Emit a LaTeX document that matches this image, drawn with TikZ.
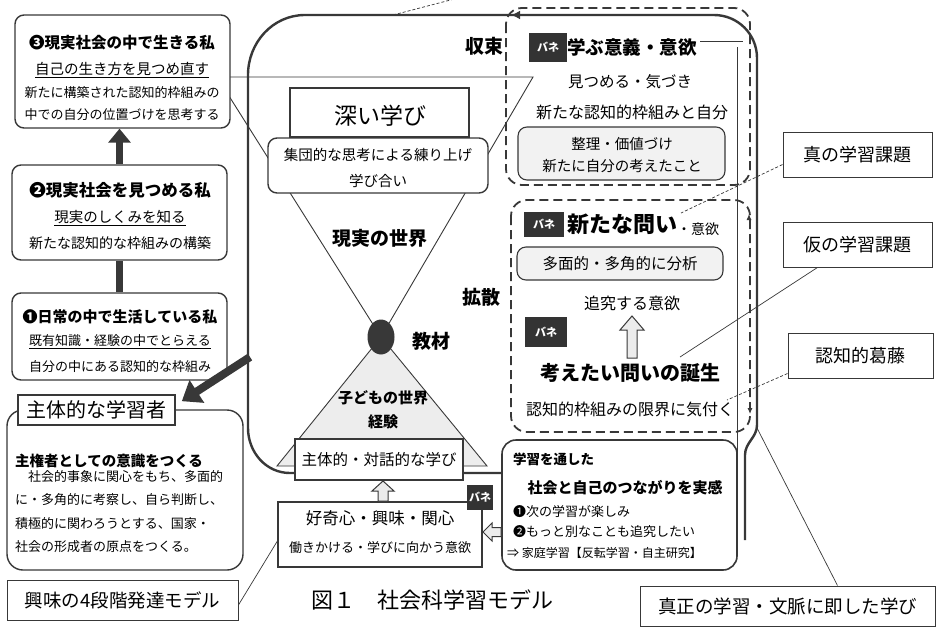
\documentclass[tikz,border=0pt]{standalone}
\usepackage{fontspec}
\usetikzlibrary{arrows.meta,shapes.geometric,calc}
\newfontfamily\jp{Noto Sans CJK JP}
\newcommand\fsz[1]{\fontsize{#1}{#1}\selectfont}
\definecolor{ink}{gray}{0.22}
\tikzset{
  loopline/.style={draw=ink,line width=2.4pt},
  rbox/.style={draw=ink,line width=1.4pt,rounded corners=9pt,fill=white,inner sep=0pt},
  sqbox/.style={draw=ink,line width=2pt,fill=white,inner sep=0pt},
  lbl/.style={draw=ink,line width=0.9pt,fill=white,inner sep=0pt,font=\jp\fsz{18}},
  txt/.style={inner sep=0pt,text=black},
  bane/.style={fill=black!80,text=white,inner sep=0pt,font=\jp\bfseries\fsz{11}},
  dbox/.style={draw=ink,line width=1.8pt,dash pattern=on 9pt off 5pt,rounded corners=16pt},
  thinl/.style={draw=ink,line width=0.7pt},
  hollowarrow/.style={draw=ink,line width=1pt,fill=gray!15,line join=miter},
}
\begin{document}
\begin{tikzpicture}[x=1pt,y=-1pt]
\useasboundingbox (0,0) rectangle (939,632);
\fill[white] (0,0) rectangle (939,632);

% hourglass
\coordinate (tl) at (217,77);
\coordinate (tr) at (533,77);
\coordinate (ctr) at (381,337);
\coordinate (bl) at (277,466);
\coordinate (br) at (487,466);
\filldraw[fill=gray!14,draw=ink,line width=0.9pt] (ctr) -- (bl) -- (br) -- cycle;
\draw[thinl,line width=0.9pt] (tl) -- (tr) -- (ctr) -- cycle;
\node[fill=ink,ellipse,minimum width=27pt,minimum height=35pt,inner sep=0pt] (ball) at (ctr) {};

% outer loop
\draw[loopline] (745,540) -- (745,455) to[out=90,in=270] (757,425) -- (757,58)
  to[out=90,in=0] (714,15) -- (305,15) to[out=180,in=90] (248,75) -- (248,428)
  to[out=270,in=180] (290,473) -- (502,473);
\draw[loopline,-{Latex[length=9pt,width=9pt]}] (522,15) -- (511,15);
% band
\draw[draw=ink,line width=0.9pt,double=white,double distance=5pt] (700,44) -- (740,44) -- (740,537);

% dashed boxes
\draw[dbox] (506,8) rectangle (750,185);
\draw[dbox] (511,200) rectangle (750,432);
\draw[ink,line width=1pt,-{Latex[length=6pt,width=5pt]}] (749,224) -- (749,214);
\draw[ink,line width=1pt,-{Latex[length=6pt,width=5pt]}] (750,404) -- (750,414);

% top connector leaving the picture
\coordinate (topa) at (393,15);
\coordinate (topb) at (462,-3);
\draw[thinl,densely dashed] (topa) -- (topb);

% left column
\node[rbox,minimum width=215pt,minimum height=113pt] (b3) at (122.5,71.5) {};
\node[txt,font=\jp\bfseries\fsz{15.5}] (b3a) at (122,43) {❸現実社会の中で生きる私};
\node[txt,font=\jp\fsz{14.5}] (b3b) at (122,70) {\underline{自己の生き方を見つめ直す}};
\node[txt,font=\jp\fsz{13}] (b3c) at (122,93) {新たに構築された認知的枠組みの};
\node[txt,font=\jp\fsz{13}] (b3d) at (122,115) {中での自分の位置づけを思考する};

\node[rbox,minimum width=215pt,minimum height=95pt] (b2) at (119.5,212.5) {};
\node[txt,font=\jp\bfseries\fsz{16.5}] (b2a) at (120,190) {❷現実社会を見つめる私};
\node[txt,font=\jp\fsz{14.5}] (b2b) at (120,218) {\underline{現実のしくみを知る}};
\node[txt,font=\jp\fsz{14}] (b2c) at (120,243) {新たな認知的な枠組みの構築};

\node[rbox,minimum width=215pt,minimum height=87pt] (b1) at (119.5,336.5) {};
\node[txt,font=\jp\bfseries\fsz{15}] (b1a) at (120,317) {❶日常の中で生活している私};
\node[txt,font=\jp\fsz{13}] (b1b) at (120,342) {\underline{既有知識・経験の中でとらえる}};
\node[txt,font=\jp\fsz{13}] (b1c) at (120,367) {自分の中にある認知的な枠組み};

\draw[draw=ink,line width=7pt,-{Triangle[length=14pt,width=22pt]}] (b2.north) -- (b2.north |- b3.south);
\draw[draw=ink,line width=7pt] (b1.north) -- (b1.north |- b2.south);

\node[rbox,rounded corners=16pt,minimum width=236pt,minimum height=160pt] (b5) at (125,490) {};
\node[sqbox,line width=1.6pt,minimum width=157pt,minimum height=30pt,font=\jp\fsz{20}] (b4) at (96.5,410) {主体的な学習者};
\node[txt,font=\jp\bfseries\fsz{14.5},anchor=west] (b5a) at (15,461) {主権者としての意識をつくる};
\node[txt,font=\jp\fsz{13},anchor=west] (b5b) at (15,477) {　社会的事象に関心をもち、多面的};
\node[txt,font=\jp\fsz{13},anchor=west] (b5c) at (15,500) {に・多角的に考察し、自ら判断し、};
\node[txt,font=\jp\fsz{13},anchor=west] (b5d) at (15,524) {積極的に関わろうとする、国家・};
\node[txt,font=\jp\fsz{13},anchor=west] (b5e) at (15,547) {社会の形成者の原点をつくる。};

\coordinate (la) at (250,357);
\coordinate (lb) at ($(b4.north east)+(6,7)$);
\draw[draw=ink,line width=8pt,-{Triangle[length=18pt,width=26pt]}] (la) -- (lb);

% centre column
\node[sqbox,minimum width=179pt,minimum height=49pt] (deep) at (379.5,112.5) {};
\node[txt,font=\jp\fsz{23}] (deept) at (380,116) {深い学び};
\node[rbox,minimum width=220pt,minimum height=55pt] (shudan) at (378,165.5) {};
\node[txt,font=\jp\fsz{14.5}] (shudana) at (378,155) {集団的な思考による練り上げ};
\node[txt,font=\jp\fsz{14.5}] (shudanb) at (378,181) {学び合い};
\node[txt,font=\jp\bfseries\fsz{19}] (genjitsu) at (380,238) {現実の世界};
\node[txt,font=\jp\bfseries\fsz{19}] (kyozai) at (431,341) {教材};
\node[txt,font=\jp\bfseries\fsz{15}] (kodomo) at (383,398) {子どもの世界};
\node[txt,font=\jp\bfseries\fsz{15}] (keiken) at (383,422) {経験};

\node[sqbox,line width=2.4pt,minimum width=168pt,minimum height=41pt,font=\jp\fsz{15.5}] (shutai) at (379,459.5) {主体的・対話的な学び};
\node[sqbox,line width=1.6pt,minimum width=204pt,minimum height=65pt] (koki) at (380,534.5) {};
\node[txt,font=\jp\fsz{16.5}] (kokia) at (380,518) {好奇心・興味・関心};
\node[txt,font=\jp\fsz{13}] (kokib) at (380,548) {働きかける・学びに向かう意欲};
% hollow up arrow koki -> shutai
\filldraw[hollowarrow] (koki.north -| 378,0) -- (378,491) -- (372,491) -- (383,481) -- (394,491) -- (388,491) -- (koki.north -| 388,0) -- cycle;
\node[bane,minimum width=26pt,minimum height=25pt] (bane4) at (480,497) {バネ};

% bottom right box
\node[rbox,line width=1.6pt,rounded corners=14pt,minimum width=235pt,minimum height=130pt] (gaku) at (619.5,505) {};
\node[txt,font=\jp\bfseries\fsz{13.5},anchor=west] (gakua) at (513,459) {学習を通した};
\node[txt,font=\jp\bfseries\fsz{15}] (gakub) at (625,488) {社会と自己のつながりを実感};
\node[txt,font=\jp\fsz{13},anchor=west] (gakuc) at (513,512) {❶次の学習が楽しみ};
\node[txt,font=\jp\fsz{13},anchor=west] (gakud) at (513,532) {❷もっと別なことも追究したい};
\node[txt,font=\jp\fsz{12},anchor=west] (gakue) at (507,553) {⇒ 家庭学習【反転学習・自主研究】};
% hollow left arrow gaku -> koki
\filldraw[hollowarrow] (gaku.west |- 0,527.5) -- (492,527.5) -- (492,523) -- (483,532) -- (492,541) -- (492,536.5) -- (gaku.west |- 0,536.5) -- cycle;

% dashed box A
\node[txt,font=\jp\bfseries\fsz{19}] (shusoku) at (484,46) {収束};
\node[bane,minimum width=38pt,minimum height=29pt] (bane1) at (548,47) {バネ};
\node[txt,font=\jp\bfseries\fsz{18.5}] (manabu) at (632,47) {学ぶ意義・意欲};
\node[txt,font=\jp\fsz{15.5}] (mitsu) at (630,82) {見つめる・気づき};
\node[txt,font=\jp\fsz{16}] (aratana) at (632,112) {新たな認知的枠組みと自分};
\node[rbox,line width=1.1pt,fill=gray!10,minimum width=207pt,minimum height=53pt] (seiri) at (621.5,153.5) {};
\node[txt,font=\jp\fsz{14.5}] (seiria) at (622,144) {整理・価値づけ};
\node[txt,font=\jp\fsz{14.5}] (seirib) at (622,166) {新たに自分の考えたこと};

% dashed box B
\node[txt,font=\jp\bfseries\fsz{19}] (kakusan) at (481,297) {拡散};
\node[bane,minimum width=40pt,minimum height=25pt] (bane2) at (544,224) {バネ};
\node[txt,font=\jp\bfseries\fsz{22}] (toi) at (622,224) {新たな問い};
\node[txt,font=\jp\fsz{14},anchor=west] (toib) at (677,229) {・意欲};
\node[rbox,line width=1.1pt,fill=gray!10,minimum width=206pt,minimum height=33pt,font=\jp\fsz{15.5}] (bunseki) at (620,263.5) {多面的・多角的に分析};
\node[txt,font=\jp\fsz{16}] (tsuikyu) at (632,303) {追究する意欲};
\node[bane,minimum width=42pt,minimum height=30pt] (bane3) at (546,332) {バネ};
\node[txt,font=\jp\bfseries\fsz{20}] (tanjo) at (630,373) {考えたい問いの誕生};
% hollow up arrow tanjo -> tsuikyu
\filldraw[hollowarrow] (627,358) -- (627,330) -- (620,330) -- (632,316) -- (644,330) -- (637,330) -- (637,358) -- cycle;
\node[txt,font=\jp\fsz{16}] (genkai) at (630,409) {認知的枠組みの限界に気付く};

% right labels
\node[lbl,minimum width=149pt,minimum height=45pt] (shin) at (857.5,154.5) {真の学習課題};
\node[lbl,minimum width=149pt,minimum height=45pt] (kari) at (857.5,244.5) {仮の学習課題};
\node[lbl,minimum width=145pt,minimum height=45pt] (katto) at (860.5,355.5) {認知的葛藤};
\node[lbl,minimum width=295pt,minimum height=40pt,font=\jp\fsz{18.5}] (shinsei) at (787.5,606) {真正の学習・文脈に即した学び};
\node[lbl,minimum width=231pt,minimum height=40pt,font=\jp\fsz{18.5}] (kyomi) at (122.5,600) {興味の4段階発達モデル};
\node[txt,font=\jp\fsz{22}] (caption) at (432,600) {図１　社会科学習モデル};

\coordinate (shinend) at (681,213);
\coordinate (kariend) at (680,357);
\coordinate (kattoend) at (727,400);
\coordinate (shinseiend) at (757,428);
\coordinate (kyomiend) at (278,540);
\draw[thinl,densely dashed] ([yshift=-10pt]shin.west) -- (shinend);
\draw[thinl] ([xshift=-40pt]kari.south) -- (kariend);
\draw[thinl,densely dashed] ([yshift=-18pt]katto.west) -- (kattoend);
\draw[thinl] ([xshift=50pt]shinsei.north) -- (shinseiend);
\draw[thinl] ([yshift=-5pt]kyomi.east) -- (kyomiend);
\end{tikzpicture}
\end{document}
